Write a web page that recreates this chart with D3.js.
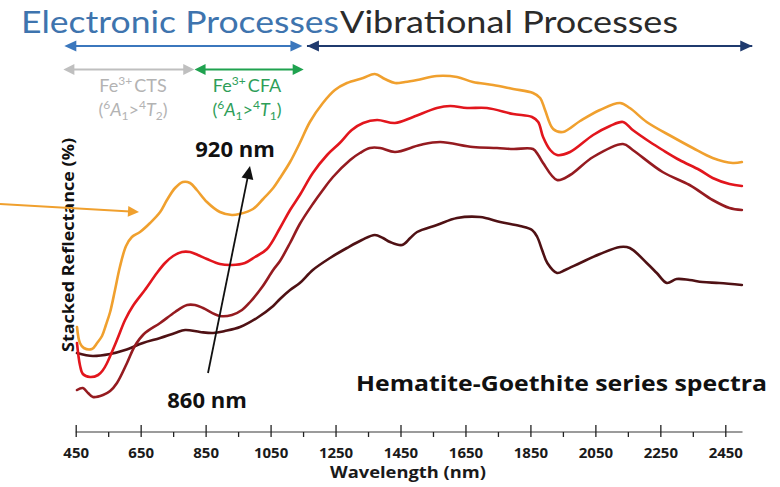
<!DOCTYPE html>
<html>
<head>
<meta charset="utf-8">
<script src="https://cdn.jsdelivr.net/npm/d3@7/dist/d3.min.js"></script>
<style>
  html, body { margin: 0; padding: 0; background: #fff; }
  svg { display: block; }
</style>
</head>
<body>
<svg id="chart" width="780" height="487"></svg>
<script>
// Stacked VNIR-SWIR reflectance spectra, hematite-goethite series
// Each spectrum: [wavelength (nm), stacked reflectance (%)]
const spectrumOrange = [
  [454,21.0],[463,17.8],[475,16.8],[500,16.6],[516,17.8],[531,19.2],[543,21.4],[556,24.0],
  [571,28.4],[586,33.0],[605,37.2],[623,39.0],[648,40.0],[679,41.8],[710,44.0],[731,46.4],
  [756,48.8],[780,50.0],[802,49.8],[823,48.4],[854,46.0],[894,44.0],[931,43.4],[954,43.6],
  [996,44.6],[1027,46.6],[1058,48.8],[1079,50.8],[1110,54.0],[1140,57.8],[1171,62.0],
  [1211,65.8],[1248,68.4],[1285,69.8],[1335,70.8],[1371,71.6],[1402,70.6],[1433,69.8],
  [1464,70.0],[1501,70.4],[1562,71.2],[1624,71.0],[1673,70.0],[1735,69.4],[1797,68.6],
  [1858,67.8],[1880,66.8],[1895,64.4],[1920,60.6],[1950,60.0],[2003,62.2],[2064,64.4],
  [2126,65.8],[2156,64.8],[2208,62.0],[2288,59.0],[2350,56.8],[2411,54.8],[2473,53.8],[2501,54.0]
];
const spectrumRed = [
  [454,17.8],[463,13.4],[472,11.6],[494,11.0],[519,11.4],[534,12.4],[545,13.6],[577,18.4],
  [602,22.4],[626,25.2],[663,28.4],[700,31.8],[725,33.8],[750,35.2],[777,36.0],[802,36.0],
  [826,35.4],[854,34.6],[894,33.6],[931,33.4],[971,33.8],[1002,35.0],[1039,36.6],[1079,40.8],
  [1110,44.4],[1140,47.4],[1180,51.8],[1224,55.4],[1263,57.8],[1300,60.4],[1335,61.8],
  [1378,62.4],[1433,61.8],[1489,63.0],[1562,64.8],[1603,65.2],[1655,64.8],[1716,64.8],
  [1797,63.6],[1855,63.0],[1874,62.0],[1889,59.0],[1911,56.4],[1932,55.4],[1972,56.0],
  [2043,59.4],[2095,61.2],[2135,62.0],[2165,60.4],[2218,58.0],[2257,56.4],[2309,54.4],
  [2371,52.4],[2411,50.8],[2463,49.6],[2501,49.2]
];
const spectrumMaroon = [
  [454,8.4],[472,8.8],[488,7.8],[503,7.0],[534,7.4],[556,8.2],[577,9.8],[608,13.8],
  [632,17.2],[660,19.6],[710,21.8],[756,24.0],[793,25.4],[817,25.4],[842,24.8],[894,23.2],
  [931,23.4],[962,24.4],[987,26.0],[1024,29.0],[1058,32.4],[1079,34.2],[1110,37.8],
  [1140,41.6],[1180,45.6],[1211,48.4],[1242,51.0],[1295,54.4],[1325,55.8],[1356,56.8],
  [1387,56.8],[1433,56.0],[1510,57.4],[1572,58.0],[1673,57.0],[1747,56.8],[1797,56.6],
  [1858,56.6],[1874,55.4],[1889,53.8],[1932,50.4],[1972,51.4],[2043,55.0],[2135,57.6],
  [2165,56.4],[2257,52.0],[2340,49.4],[2411,46.4],[2463,44.8],[2501,44.4]
];
const spectrumBrown = [
  [454,15.8],[479,15.4],[503,15.2],[556,15.6],[602,16.4],[657,17.8],[710,18.8],[756,19.8],
  [787,20.4],[833,20.0],[873,19.8],[909,20.2],[956,21.0],[1008,22.8],[1058,25.2],[1079,26.6],
  [1110,28.4],[1140,29.8],[1180,32.4],[1233,34.8],[1285,36.8],[1331,38.4],[1371,39.4],
  [1396,38.8],[1418,38.0],[1455,37.4],[1480,38.8],[1501,40.0],[1562,41.4],[1624,42.8],
  [1695,43.0],[1757,42.0],[1818,41.2],[1855,40.4],[1871,39.0],[1886,36.4],[1902,33.8],
  [1932,31.8],[1957,32.4],[2003,33.8],[2064,35.6],[2126,37.0],[2156,36.8],[2208,33.8],
  [2239,31.8],[2270,29.8],[2300,30.6],[2340,30.4],[2380,30.0],[2432,29.8],[2501,29.4]
];
const seriesList = [spectrumBrown, spectrumMaroon, spectrumRed, spectrumOrange];
const seriesColors = ["#4f1114", "#951b20", "#e2161d", "#f0a02e"];

const majorTicks = [450, 650, 850, 1050, 1250, 1450, 1650, 1850, 2050, 2250, 2450];
const minorTicks = [550, 750, 950, 1150, 1350, 1550, 1750, 1950, 2150, 2350];
const axisEnd = 2503;

// Process ranges along the wavelength axis (nm)
const electronicRange = [415, 1148];
const vibrationalRange = [1162, 2533];
const ctsRange = [412, 815];
const cfaRange = [816, 1152];

const svg = d3.select("#chart");

const x = d3.scaleLinear().domain([450, 2450]).range([75.7, 725.3]);
const y = d3.scaleLinear().domain([0, 74]).range([432, 62]);

// ---- spectra
const line = d3.line()
  .x(d => x(d[0]))
  .y(d => y(d[1]))
  .curve(d3.curveCatmullRom.alpha(0.5));

svg.append("g").selectAll("path")
  .data(seriesList)
  .join("path")
  .attr("d", line)
  .attr("fill", "none")
  .attr("stroke", (d, i) => seriesColors[i])
  .attr("stroke-width", 2.6)
  .attr("stroke-linejoin", "round")
  .attr("stroke-linecap", "round");

// ---- x axis
const axisY = 432;
const axisG = svg.append("g").attr("transform", `translate(0,${axisY})`);

axisG.append("line")
  .attr("x1", x(450)).attr("x2", x(axisEnd))
  .attr("stroke", "#7a7a7a").attr("stroke-width", 1.6);

const majorDown = axisG.append("g").call(
  d3.axisBottom(x).tickValues(majorTicks).tickSize(5).tickPadding(10)
    .tickFormat(d3.format("d"))
);
const majorUp = axisG.append("g").call(
  d3.axisTop(x).tickValues(majorTicks).tickSize(7).tickFormat("")
);
const minorDown = axisG.append("g").call(
  d3.axisBottom(x).tickValues(minorTicks).tickSize(5).tickFormat("")
);
[majorDown, majorUp, minorDown].forEach(g => {
  g.select(".domain").remove();
  g.selectAll(".tick line").attr("stroke", "#222").attr("stroke-width", 1.3);
});
majorDown.selectAll(".tick text")
  .attr("fill", "#1a1a1a")
  .style("font-family", "'Liberation Sans Narrow', 'Open Sans', sans-serif")
  .style("font-weight", "bold")
  .style("font-size", "15px");

svg.append("text")
  .attr("x", 408).attr("y", 478)
  .attr("text-anchor", "middle")
  .attr("textLength", 156).attr("lengthAdjust", "spacingAndGlyphs")
  .style("font-family", "'Liberation Sans Narrow', 'Open Sans', sans-serif")
  .style("font-weight", "bold").style("font-size", "16px")
  .attr("fill", "#1a1a1a")
  .text("Wavelength (nm)");

// ---- y label
svg.append("text")
  .attr("transform", "translate(74,245) rotate(-90)")
  .attr("text-anchor", "middle")
  .attr("textLength", 214).attr("lengthAdjust", "spacingAndGlyphs")
  .style("font-family", "'Open Sans', sans-serif")
  .style("font-weight", "bold").style("font-size", "16px")
  .attr("fill", "#111")
  .text("Stacked Reflectance (%)");

// ---- helpers for arrows
function arrowHead(g, tipX, tipY, angle, len, half, color) {
  const a = angle;
  const bx = tipX - len * Math.cos(a), by = tipY - len * Math.sin(a);
  const nx = -Math.sin(a), ny = Math.cos(a);
  g.append("path")
    .attr("d", `M${tipX},${tipY}L${bx + nx * half},${by + ny * half}L${bx - nx * half},${by - ny * half}Z`)
    .attr("fill", color);
}
function arrow(g, x1, y1, x2, y2, color, width, len, half, both) {
  const a = Math.atan2(y2 - y1, x2 - x1);
  const sx = both ? x1 + len * 0.8 * Math.cos(a) : x1;
  const sy = both ? y1 + len * 0.8 * Math.sin(a) : y1;
  g.append("line")
    .attr("x1", sx).attr("y1", sy)
    .attr("x2", x2 - len * 0.8 * Math.cos(a)).attr("y2", y2 - len * 0.8 * Math.sin(a))
    .attr("stroke", color).attr("stroke-width", width);
  arrowHead(g, x2, y2, a, len, half, color);
  if (both) arrowHead(g, x1, y1, a + Math.PI, len, half, color);
}

const ann = svg.append("g");

// ---- process headings
ann.append("text")
  .attr("x", 21).attr("y", 33)
  .attr("textLength", 318).attr("lengthAdjust", "spacingAndGlyphs")
  .style("font-family", "Lato, 'Open Sans', sans-serif").style("font-size", "30px")
  .attr("fill", "#3e74ae")
  .text("Electronic Processes");
ann.append("text")
  .attr("x", 340).attr("y", 33)
  .attr("textLength", 338).attr("lengthAdjust", "spacingAndGlyphs")
  .style("font-family", "Lato, 'Open Sans', sans-serif").style("font-size", "30px")
  .attr("fill", "#2b2b2b")
  .text("Vibrational Processes");

arrow(ann, x(electronicRange[0]), 46, x(electronicRange[1]), 46, "#3b77bd", 2, 12, 5.5, true);
arrow(ann, x(vibrationalRange[0]), 46, x(vibrationalRange[1]), 46, "#1f3a6e", 2, 0.01, 0, false);
arrowHead(ann, x(vibrationalRange[0]), 46, Math.PI, 12, 5.5, "#1f3a6e");
arrowHead(ann, x(vibrationalRange[1]), 46, 0, 12, 5.5, "#1f3a6e");
arrow(ann, x(ctsRange[0]), 69.5, x(ctsRange[1]), 69.5, "#bfbfbf", 2, 11, 5.5, true);
arrow(ann, x(cfaRange[0]), 69.5, x(cfaRange[1]), 69.5, "#1fa24f", 2, 11, 5.5, true);

// ---- Fe3+ transition labels
function feLabel(cx, color, name, lastSub) {
  const t1 = ann.append("text")
    .attr("x", cx).attr("y", 92).attr("text-anchor", "middle")
    .style("font-family", "Lato, 'Open Sans', sans-serif").style("font-size", "18px")
    .attr("fill", color);
  t1.append("tspan").text("Fe");
  t1.append("tspan").attr("dy", -7).style("font-size", "12px").text("3+");
  t1.append("tspan").attr("dy", 7).text("\u2009" + name);

  const t2 = ann.append("text")
    .attr("x", cx).attr("y", 116).attr("text-anchor", "middle")
    .style("font-family", "Lato, 'Open Sans', sans-serif").style("font-size", "18px")
    .attr("fill", color);
  t2.append("tspan").text("(");
  t2.append("tspan").attr("dy", -7).style("font-size", "12px").text("6");
  t2.append("tspan").attr("dy", 7).style("font-style", "italic").text("A");
  t2.append("tspan").attr("dy", 4).style("font-size", "12px").text("1");
  t2.append("tspan").attr("dy", -4).text(">");
  t2.append("tspan").attr("dy", -7).style("font-size", "12px").text("4");
  t2.append("tspan").attr("dy", 7).style("font-style", "italic").text("T");
  t2.append("tspan").attr("dy", 4).style("font-size", "12px").text(lastSub);
  t2.append("tspan").attr("dy", -4).text(")");
}
feLabel(133, "#b3b3b3", "CTS", "2");
feLabel(247, "#2e9e58", "CFA", "1");

// ---- orange pointer
arrow(ann, 0, 204, 139, 212, "#f0a02e", 1.8, 11, 5.5, false);

// ---- band-shift arrow 860 -> 920 nm
arrow(ann, 208, 373, 250, 166, "#111", 1.8, 13, 6, false);
ann.append("text")
  .attr("x", 235).attr("y", 157).attr("text-anchor", "middle")
  .style("font-family", "'Open Sans', sans-serif").style("font-weight", "bold").style("font-size", "22px")
  .attr("fill", "#111").text("920 nm");
ann.append("text")
  .attr("x", 207).attr("y", 408).attr("text-anchor", "middle")
  .style("font-family", "'Open Sans', sans-serif").style("font-weight", "bold").style("font-size", "22px")
  .attr("fill", "#111").text("860 nm");

// ---- series caption
ann.append("text")
  .attr("x", 356).attr("y", 391)
  .attr("textLength", 411).attr("lengthAdjust", "spacingAndGlyphs")
  .style("font-family", "'Open Sans', sans-serif").style("font-weight", "bold").style("font-size", "21px")
  .attr("fill", "#111").text("Hematite-Goethite series spectra");
</script>
</body>
</html>
